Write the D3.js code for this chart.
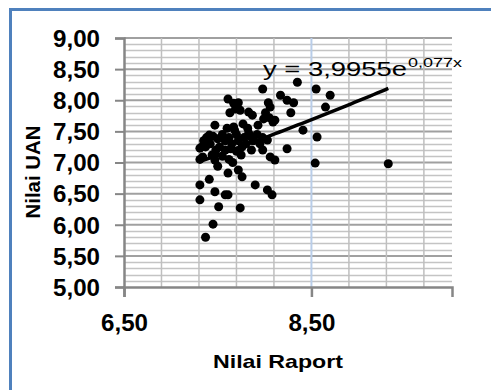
<!DOCTYPE html>
<html><head><meta charset="utf-8">
<script src="https://cdn.jsdelivr.net/npm/d3@7"></script>
<style>body{margin:0;background:#fff}</style>
</head><body>
<svg id="c" width="491" height="390"></svg>
<script>
// Data: Nilai Raport (x) vs Nilai UAN (y)
const raport = [8.35,7.98,8.55,8.70,8.17,8.24,8.31,8.04,8.65,8.06,8.01,8.28,8.11,7.93,8.41,8.56,8.24,7.98,8.06,8.11,8.54,9.32,7.90,8.03,8.08,
  7.31,7.41,7.31,7.47,7.58,7.61,7.61,7.72,7.76,7.51,7.74,7.45,7.37,7.34,7.47,7.50,7.61,7.67,7.72,7.63,7.83,7.87,7.47,7.67,7.41,7.33,7.31,7.31,7.37,7.44,
  7.74,7.99,8.05,8.09,7.38,7.45,7.50,7.55,7.58,7.62,7.65,7.70,7.72,7.78,7.80,7.85,7.88,7.92,7.95,7.52,7.58,7.64,7.70,7.75,7.55,7.62,7.48,7.42,7.68,7.60,
  7.82,7.77,7.86,7.98,8.03,7.35,7.66,7.83,7.76,7.69];
const uan = [8.29,8.18,8.18,8.08,8.08,8.00,7.96,7.96,7.89,7.89,7.80,7.80,7.68,7.60,7.52,7.41,7.22,7.20,7.09,7.04,6.99,6.98,6.64,6.56,6.48,
  6.64,6.73,6.40,6.53,6.48,6.48,6.83,6.88,6.77,6.29,6.27,6.01,5.80,7.09,7.04,6.94,8.02,7.95,7.96,7.80,7.81,7.76,7.60,7.57,7.44,7.25,7.23,7.05,7.25,7.12,
  7.84,7.70,7.72,7.65,7.40,7.42,7.38,7.45,7.35,7.40,7.30,7.45,7.35,7.40,7.30,7.42,7.35,7.45,7.30,7.25,7.20,7.22,7.18,7.12,7.10,7.05,7.20,7.30,7.52,7.55,
  7.55,7.62,7.20,7.40,7.36,7.35,7.00,7.47,7.25,7.86];
const yTickValues = [5.0,5.5,6.0,6.5,7.0,7.5,8.0,8.5,9.0];
const xTickValues = [6.5,8.5];
const trendA = 3.9955, trendB = 0.077;
const equationMain = "y = 3,9955e";
const equationExp = "0,077x";
const xTitle = "Nilai Raport";
const yTitle = "Nilai UAN";

const svg = d3.select("#c");
const x = d3.scaleLinear().domain([6.5,10]).range([124,452]);
const y = d3.scaleLinear().domain([5,9]).range([287,38]);
const loc = d3.formatLocale({decimal:",",thousands:".",grouping:[3],currency:["",""]});
const fmt = loc.format(".2f");

// border
svg.append("line").attr("x1",10.5).attr("x2",10.5).attr("y1",8).attr("y2",390).attr("stroke","#4f81bd").attr("stroke-width",3);
svg.append("line").attr("x1",9).attr("x2",491).attr("y1",9.5).attr("y2",9.5).attr("stroke","#4f81bd").attr("stroke-width",3);

const g = svg.append("g");
// minor horizontal grid
const minorY = d3.range(0,41).map(i=>5+i*0.1).filter(v=>Math.abs(v*2-Math.round(v*2))>1e-6);
g.selectAll(".hm").data(minorY).join("line")
  .attr("x1",x(6.5)).attr("x2",x(10)).attr("y1",d=>Math.round(y(d))+0.5).attr("y2",d=>Math.round(y(d))+0.5)
  .attr("stroke","#c4c4c4").attr("stroke-width",1.4);
// major horizontal grid
g.selectAll(".hM").data(yTickValues.slice(1)).join("line")
  .attr("x1",x(6.5)).attr("x2",x(10)).attr("y1",d=>y(d)).attr("y2",d=>y(d))
  .attr("stroke","#a0a0a0").attr("stroke-width",2);
// minor vertical grid
const minorX = d3.range(1,9).map(i=>6.5+i*0.4).filter(v=>Math.abs(v-8.5)>1e-6);
g.selectAll(".vm").data(minorX).join("line")
  .attr("x1",d=>x(d)).attr("x2",d=>x(d)).attr("y1",y(9)).attr("y2",y(5))
  .attr("stroke","#bfbfbf").attr("stroke-width",1.5);
// major vertical (8.5) bluish
g.selectAll(".vM").data(xTickValues.slice(1)).join("line")
  .attr("x1",d=>x(d)).attr("x2",d=>x(d)).attr("y1",y(9)).attr("y2",y(5))
  .attr("stroke","#b9cde8").attr("stroke-width",2);

// axes
const yAxis = d3.axisLeft(y).tickValues(yTickValues).tickSize(9).tickFormat(fmt);
const ya = svg.append("g").attr("transform",`translate(${x(6.5)},0)`).call(yAxis);
ya.select(".domain").attr("stroke","#868686").attr("stroke-width",2.5);
ya.selectAll(".tick line").attr("stroke","#868686").attr("stroke-width",2);
ya.selectAll(".tick text").attr("x",-24).attr("dy","0.36em")
  .style("font-family","'Liberation Sans', Arial, sans-serif").style("font-weight","bold").style("font-size","23px")
  .attr("fill","#000").attr("textLength",47).attr("lengthAdjust","spacingAndGlyphs");

const xAxis = d3.axisBottom(x).tickValues(xTickValues).tickSize(10).tickFormat(fmt);
const xa = svg.append("g").attr("transform",`translate(0,${y(5)})`).call(xAxis);
xa.select(".domain").attr("stroke","#868686").attr("stroke-width",2.5);
xa.selectAll(".tick line").attr("stroke","#868686").attr("stroke-width",2.5);
xa.selectAll(".tick text").attr("y",44).attr("dy",0)
  .style("font-family","'Liberation Sans', Arial, sans-serif").style("font-weight","bold").style("font-size","23px")
  .attr("fill","#000").attr("textLength",47).attr("lengthAdjust","spacingAndGlyphs");

// trendline
const xMin = d3.min(raport), xMax = d3.max(raport);
const tPts = d3.range(0,51).map(i=>xMin+(xMax-xMin)*i/50);
svg.append("path").datum(tPts)
  .attr("d",d3.line().x(d=>x(d)).y(d=>y(trendA*Math.exp(trendB*d))))
  .attr("fill","none").attr("stroke","#000").attr("stroke-width",3.5);

// points
svg.append("g").selectAll("circle").data(raport.map((r,i)=>[r,uan[i]])).join("circle")
  .attr("cx",d=>x(d[0])).attr("cy",d=>y(d[1])).attr("r",4.5).attr("fill","#000");

// equation
const eq = svg.append("g");
eq.append("text").attr("x",263).attr("y",76).text(equationMain)
  .style("font-family","'Liberation Sans', Arial, sans-serif").style("font-size","21px")
  .attr("textLength",144).attr("lengthAdjust","spacingAndGlyphs");
eq.append("text").attr("x",408).attr("y",67).text(equationExp)
  .style("font-family","'Liberation Sans', Arial, sans-serif").style("font-size","13px")
  .attr("textLength",54).attr("lengthAdjust","spacingAndGlyphs");

// titles
svg.append("text").attr("x",278).attr("y",368).attr("text-anchor","middle").text(xTitle)
  .style("font-family","'Liberation Sans', Arial, sans-serif").style("font-weight","bold").style("font-size","19px")
  .attr("textLength",130).attr("lengthAdjust","spacingAndGlyphs");
svg.append("text").attr("transform","translate(40,172) rotate(-90)").attr("text-anchor","middle").text(yTitle)
  .style("font-family","'Liberation Sans', Arial, sans-serif").style("font-weight","bold").style("font-size","20px")
  .attr("textLength",93).attr("lengthAdjust","spacingAndGlyphs");
</script>
</body></html>
